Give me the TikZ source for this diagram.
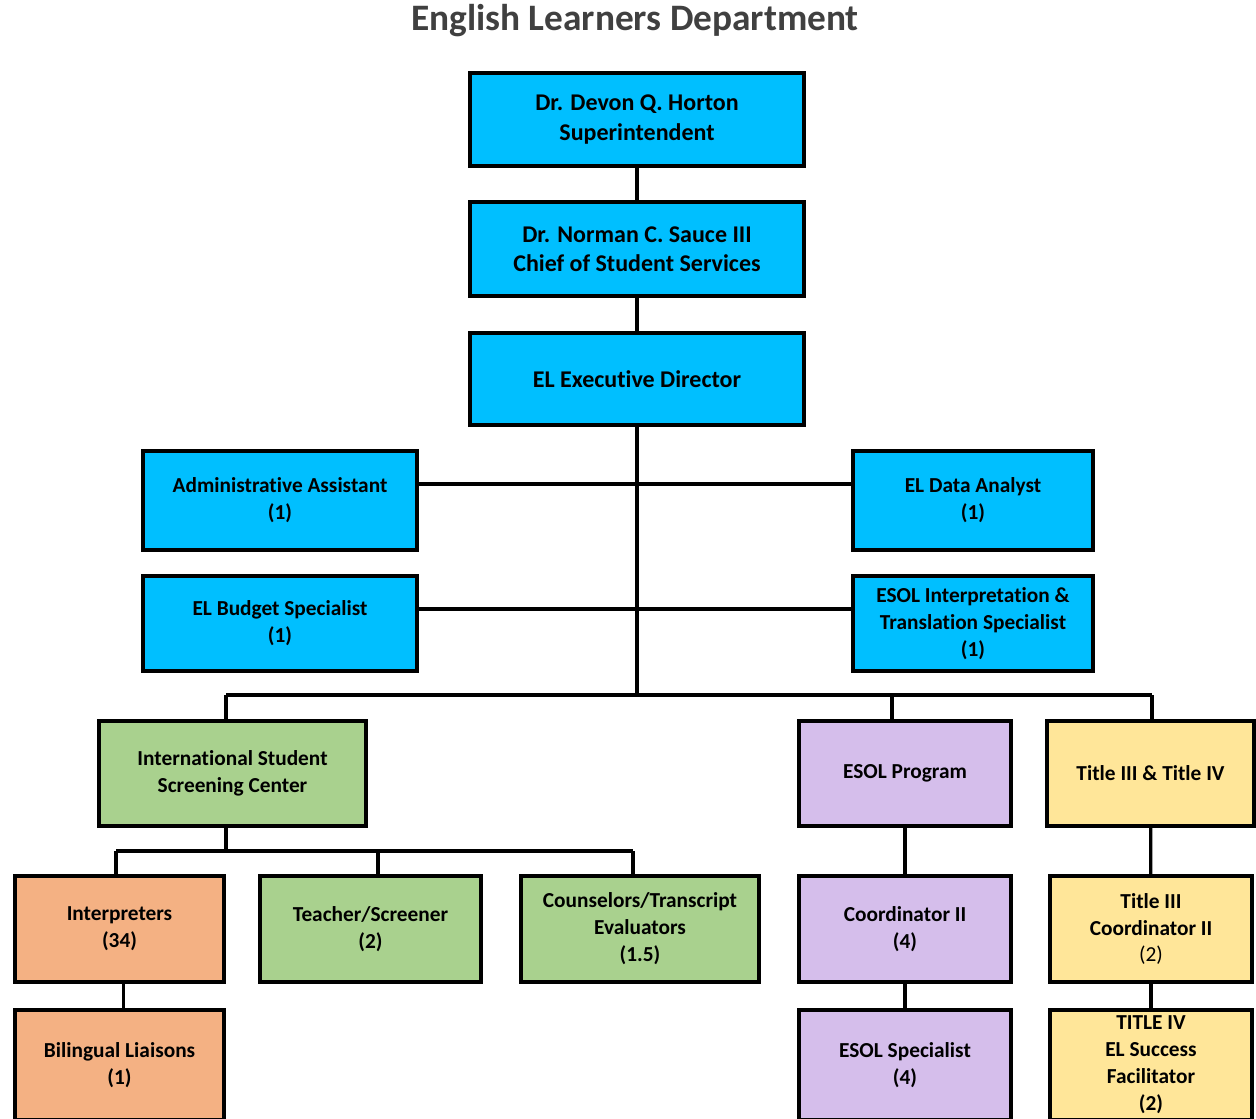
\documentclass[tikz,border=0pt]{standalone}
\usepackage{fontspec}
\setmainfont{Carlito}[Ligatures={NoCommon}]
\usepackage{tikz}
\usetikzlibrary{positioning,calc}
\usepackage{xcolor}
\definecolor{elblue}{RGB}{0,191,255}
\definecolor{elgreen}{RGB}{169,209,142}
\definecolor{elorange}{RGB}{244,177,131}
\definecolor{elpurple}{RGB}{213,190,235}
\definecolor{elyellow}{RGB}{255,230,153}
\definecolor{titlegray}{RGB}{64,64,64}
\tikzset{
  wh/.style 2 args={minimum width=#1*0.75pt, minimum height=#2*0.75pt},
  box/.style={
    draw, line width=3pt, align=center, inner sep=1mm,
    font=\fontsize{16}{20.2}\selectfont\bfseries
  },
  bluebox/.style={box, fill=elblue},
  headbox/.style={bluebox, font=\fontsize{18}{22}\selectfont\bfseries},
  greenbox/.style={box, fill=elgreen},
  orangebox/.style={box, fill=elorange},
  purplebox/.style={box, fill=elpurple},
  yellowbox/.style={box, fill=elyellow},
  link/.style={line width=2.4pt}
}
\begin{document}
\begin{tikzpicture}[x=0.75pt, y=-0.75pt]
  \useasboundingbox (0,0) rectangle (1256,1118);
  \node[font=\fontsize{28}{33}\selectfont\bfseries, text=titlegray] (title) at (635,21) {English Learners Department};

  % top chain
  \node[headbox, wh={334}{93}] (sup) at (637,119.5) {Dr. Devon Q. Horton\\Superintendent};
  \node[headbox, wh={334}{94}] (chief) at (637,249) {Dr. Norman C. Sauce III\\Chief of Student Services};
  \node[headbox, wh={334}{92}] (exec) at (637,379) {EL Executive Director};

  % staff
  \node[bluebox, wh={274}{99}] (admin) at (280,500.5) {Administrative Assistant\\(1)};
  \node[bluebox, wh={240}{99}] (analyst) at (973,500.5) {EL Data Analyst\\(1)};
  \node[bluebox, wh={274}{95}] (budget) at (280,623.5) {EL Budget Specialist\\(1)};
  \node[bluebox, wh={240}{95}] (interp) at (973,623.5) {ESOL Interpretation \&\\Translation Specialist\\(1)};

  % programs
  \node[greenbox, wh={267}{105}] (issc) at (232.5,773.5) {International Student\\Screening Center};
  \node[purplebox, wh={212}{105}] (esol) at (905,773.5) {ESOL Program};
  \node[yellowbox, wh={207}{105}] (title34) at (1150.5,773.5) {Title III \& Title IV};

  % screening center staff
  \node[orangebox, wh={209}{106}] (interpreters) at (119.5,929) {Interpreters\\(34)};
  \node[greenbox, wh={221}{106}] (teacher) at (370.5,929) {Teacher/Screener\\(2)};
  \node[greenbox, wh={238}{106}] (couns) at (640,929) {Counselors/Transcript\\Evaluators\\(1.5)};
  \node[orangebox, wh={209}{110}] (liaisons) at (119.5,1065) {Bilingual Liaisons\\(1)};

  % esol staff
  \node[purplebox, wh={212}{106}] (coord) at (905,929) {Coordinator II\\(4)};
  \node[purplebox, wh={212}{110}] (esolspec) at (905,1065) {ESOL Specialist\\(4)};

  % title staff
  \node[yellowbox, wh={202}{106}] (tcoord) at (1151,929) {Title III\\Coordinator II\\\mdseries(2)};
  \node[yellowbox, wh={202}{110}] (tfac) at (1151,1065) {TITLE IV\\EL Success\\Facilitator\\(2)};

  \coordinate (j1) at (637,484);
  \coordinate (j2) at (637,609);
  \coordinate (bus) at (637,695);
  \coordinate (busL) at (226,695);
  \coordinate (busM) at (892,695);
  \coordinate (busR) at (1152,695);
  \coordinate (sub) at (226,851);
  \coordinate (subL) at (116,851);
  \coordinate (subM) at (378,851);
  \coordinate (subR) at (633,851);

  \draw[link] (sup) -- (chief);
  \draw[link] (chief) -- (exec);
  \draw[link] (exec.south) -- (bus);
  \draw[link] (admin.east |- j1) -- (analyst.west |- j1);
  \draw[link] (budget.east |- j2) -- (interp.west |- j2);
  \draw[link] (busL) -- (busR);
  \draw[link] (busL) -- (busL |- issc.north);
  \draw[link] (busM) -- (busM |- esol.north);
  \draw[link] (busR) -- (busR |- title34.north);
  \draw[link] (sub |- issc.south) -- (sub);
  \draw[link] (subL) -- (subR);
  \draw[link] (subL) -- (subL |- interpreters.north);
  \draw[link] (subM) -- (subM |- teacher.north);
  \draw[link] (subR) -- (subR |- couns.north);
  \draw[link] ([xshift=3pt]interpreters.south) -- ([xshift=3pt]liaisons.north);
  \draw[link] (esol) -- (coord);
  \draw[link] (coord) -- (esolspec);
  \draw[link] (title34) -- (tcoord);
  \draw[link] (tcoord) -- (tfac);
\end{tikzpicture}
\end{document}
